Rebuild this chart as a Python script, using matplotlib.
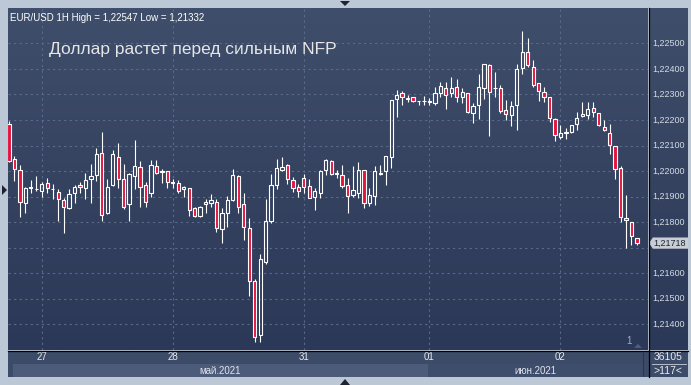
import numpy as np
import matplotlib
matplotlib.use('Agg')
import matplotlib.pyplot as plt
from matplotlib.patches import Rectangle, Polygon
from matplotlib import font_manager

# hourly EURUSD candles
opens = [1.22184, 1.22046, 1.22003, 1.21874, 1.21932, 1.21929, 1.21923, 1.21952, 1.21931, 1.21918,
         1.21887, 1.21854, 1.21913, 1.21944, 1.21932, 1.21968, 1.21986, 1.22070, 1.21835, 1.21944,
         1.22056, 1.21970, 1.21870, 1.21981, 1.22017, 1.21944, 1.21913, 1.22019, 1.22001, 1.21999,
         1.21957, 1.21952, 1.21929, 1.21932, 1.21854, 1.21824, 1.21870, 1.21874, 1.21879, 1.21772,
         1.21836, 1.21886, 1.21980, 1.21870, 1.21779, 1.21569, 1.21359, 1.21645, 1.21805, 1.21947,
         1.22003, 1.22022, 1.21964, 1.21936, 1.21971, 1.21943, 1.21899, 1.21915, 1.22006, 1.22040,
         1.21991, 1.21983, 1.21947, 1.21908, 1.21916, 1.22003, 1.21876, 1.21902, 1.21990, 1.22000,
         1.22054, 1.22283, 1.22304, 1.22284, 1.22289, 1.22274, 1.22273, 1.22272, 1.22268, 1.22304,
         1.22326, 1.22304, 1.22328, 1.22291, 1.22304, 1.22226, 1.22259, 1.22324, 1.22414, 1.22326,
         1.22324, 1.22239, 1.22218, 1.22257, 1.22402, 1.22465, 1.22406, 1.22343, 1.22309, 1.22289,
         1.22202, 1.22132, 1.22148, 1.22153, 1.22184, 1.22214, 1.22218, 1.22246, 1.22226, 1.22171,
         1.22150, 1.22099, 1.22011, 1.21817, 1.21802, 1.21738]
highs = [1.22195, 1.22059, 1.22024, 1.21936, 1.21965, 1.21981, 1.21959, 1.21972, 1.21949, 1.21929,
         1.21893, 1.21929, 1.21946, 1.21959, 1.21991, 1.22026, 1.22089, 1.22153, 1.21968, 1.22083,
         1.22109, 1.22028, 1.21994, 1.22122, 1.22039, 1.21959, 1.22043, 1.22043, 1.22007, 1.22001,
         1.21968, 1.21965, 1.21942, 1.21934, 1.21861, 1.21863, 1.21889, 1.21909, 1.21889, 1.21856,
         1.21902, 1.22007, 1.21984, 1.21915, 1.21818, 1.21579, 1.21675, 1.21891, 1.21989, 1.22048,
         1.22056, 1.22027, 1.21977, 1.21951, 1.21988, 1.21967, 1.21932, 1.22006, 1.22048, 1.22043,
         1.22003, 1.22023, 1.21971, 1.22019, 1.22037, 1.22006, 1.21932, 1.22019, 1.22022, 1.22058,
         1.22278, 1.22317, 1.22313, 1.22296, 1.22291, 1.22276, 1.22294, 1.22286, 1.22328, 1.22349,
         1.22349, 1.22367, 1.22359, 1.22324, 1.22307, 1.22265, 1.22380, 1.22418, 1.22418, 1.22386,
         1.22337, 1.22278, 1.22276, 1.22419, 1.22547, 1.22522, 1.22435, 1.22343, 1.22330, 1.22291,
         1.22206, 1.22179, 1.22167, 1.22179, 1.22232, 1.22272, 1.22272, 1.22272, 1.22226, 1.22200,
         1.22184, 1.22099, 1.22020, 1.21905, 1.21802, 1.21738]
lows = [1.22035, 1.21963, 1.21822, 1.21837, 1.21916, 1.21923, 1.21900, 1.21913, 1.21892, 1.21806,
        1.21759, 1.21852, 1.21874, 1.21916, 1.21889, 1.21876, 1.21962, 1.21806, 1.21833, 1.21942,
        1.21932, 1.21853, 1.21803, 1.21929, 1.21861, 1.21861, 1.21900, 1.21989, 1.21952, 1.21932,
        1.21932, 1.21916, 1.21897, 1.21824, 1.21819, 1.21822, 1.21837, 1.21858, 1.21763, 1.21717,
        1.21782, 1.21883, 1.21836, 1.21729, 1.21510, 1.21332, 1.21332, 1.21638, 1.21797, 1.21930,
        1.22001, 1.21951, 1.21919, 1.21899, 1.21915, 1.21893, 1.21847, 1.21893, 1.21985, 1.21986,
        1.21971, 1.21932, 1.21836, 1.21899, 1.21893, 1.21856, 1.21862, 1.21869, 1.21983, 1.21947,
        1.22011, 1.22213, 1.22259, 1.22272, 1.22270, 1.22260, 1.22260, 1.22260, 1.22259, 1.22291,
        1.22242, 1.22291, 1.22272, 1.22268, 1.22226, 1.22187, 1.22205, 1.22283, 1.22139, 1.22289,
        1.22226, 1.22200, 1.22176, 1.22161, 1.22380, 1.22409, 1.22330, 1.22274, 1.22272, 1.22193,
        1.22119, 1.22127, 1.22127, 1.22150, 1.22161, 1.22210, 1.22202, 1.22213, 1.22176, 1.22158,
        1.22067, 1.21968, 1.21799, 1.21698, 1.21711, 1.21711]
closes = [1.22041, 1.22007, 1.21878, 1.21932, 1.21939, 1.21931, 1.21949, 1.21932, 1.21928, 1.21889,
          1.21858, 1.21909, 1.21936, 1.21936, 1.21965, 1.21982, 1.22067, 1.21827, 1.21936, 1.22066,
          1.21968, 1.21861, 1.21989, 1.22021, 1.21936, 1.21879, 1.22023, 1.21991, 1.21998, 1.21957,
          1.21952, 1.21923, 1.21938, 1.21848, 1.21824, 1.21861, 1.21879, 1.21887, 1.21779, 1.21835,
          1.21886, 1.21983, 1.21860, 1.21782, 1.21570, 1.21351, 1.21654, 1.21804, 1.21945, 1.22010,
          1.22016, 1.21967, 1.21932, 1.21923, 1.21936, 1.21896, 1.21923, 1.22001, 1.22045, 1.21990,
          1.21990, 1.21943, 1.21902, 1.21925, 1.22006, 1.21873, 1.21908, 1.22000, 1.21991, 1.22057,
          1.22278, 1.22296, 1.22289, 1.22283, 1.22276, 1.22273, 1.22274, 1.22274, 1.22307, 1.22333,
          1.22296, 1.22324, 1.22289, 1.22309, 1.22232, 1.22255, 1.22328, 1.22418, 1.22308, 1.22327,
          1.22234, 1.22223, 1.22255, 1.22400, 1.22467, 1.22414, 1.22336, 1.22312, 1.22291, 1.22206,
          1.22141, 1.22148, 1.22152, 1.22179, 1.22206, 1.22222, 1.22242, 1.22232, 1.22179, 1.22161,
          1.22102, 1.22007, 1.21820, 1.21809, 1.21747, 1.21718]

day_labels = ['27', '28', '31', '01', '02']
day_index = [6, 30, 54, 77, 101]
price_ticks = [1.214, 1.215, 1.216, 1.217, 1.218, 1.219, 1.220, 1.221, 1.222, 1.223, 1.224, 1.225]
months = ['май.2021', 'июн.2021']
title_small = 'EUR/USD 1H High = 1,22547 Low = 1,21332'
title_big = 'Доллар растет перед сильным NFP'
last_price = 1.21718

W, H = 691, 385
names = {f.name for f in font_manager.fontManager.ttflist}
narrow = 'Liberation Sans Narrow' if 'Liberation Sans Narrow' in names else 'Liberation Sans'
plt.rcParams['font.family'] = ['Liberation Sans', 'DejaVu Sans']


def box(x, y, w, h):
    # pixel box (top-left origin) -> figure fraction
    return [x / W, 1 - (y + h) / H, w / W, h / H]


def fx(x):
    return x / W


def fy(y):
    return 1 - y / H


fig = plt.figure(figsize=(W / 100, H / 100), dpi=100)
fig.patch.set_facecolor('#bcc8d6')

# price scale: 1.225 at y=43.3 px, 25.55 px per 0.001
ymax = 1.225 + (43.3 - 8) / 25550
ymin = 1.225 - (350 - 43.3) / 25550
xmin = -1 / 5.46
xmax = xmin + 640 / 5.46

grad = np.linspace(0, 1, 256).reshape(-1, 1)
cmap = matplotlib.colors.LinearSegmentedColormap.from_list('bg', ['#3f4e6b', '#2b3857'])

ax = fig.add_axes(box(8, 8, 640, 342))
ax.imshow(grad, aspect='auto', cmap=cmap, extent=[xmin, xmax, ymin, ymax], zorder=0)
ax.set_xlim(xmin, xmax)
ax.set_ylim(ymin, ymax)
ax.axis('off')

for p in price_ticks:
    ax.axhline(p, color='#5b6b8b', lw=0.8, dashes=(2, 3), zorder=1)
for d in day_index:
    ax.axvline(d, color='#5b6b8b', lw=0.8, dashes=(2, 3), zorder=1)

o = np.array(opens)
c = np.array(closes)
hi = np.array(highs)
lo = np.array(lows)
x = np.arange(len(o))
top = np.maximum(o, c)
bot = np.minimum(o, c)

ax.vlines(x, top, hi, color='white', lw=0.8, zorder=2)
ax.vlines(x, lo, bot, color='white', lw=0.8, zorder=2)
up = c >= o
ax.bar(x[up], (top - bot)[up], bottom=bot[up], width=0.6, facecolor='none',
       edgecolor='white', linewidth=0.8, zorder=3)
ax.bar(x[~up], (top - bot)[~up], bottom=bot[~up], width=0.6, facecolor='#e3123e',
       edgecolor='white', linewidth=0.8, zorder=3)

ax.text(0.003, 0.985, title_small, transform=ax.transAxes, color='white',
        fontsize=7, ha='left', va='top')
ax.text(0.064, 0.88, title_big, transform=ax.transAxes, color='#e6e6e6',
        fontsize=12.5, ha='left', va='center')
ax.text(618 / 640, 0.013, '1', transform=ax.transAxes, color='#9fb0c8',
        fontsize=7, ha='left', va='bottom')
ax.add_patch(Polygon([[626 / 640, 0.006], [634 / 640, 0.006], [630 / 640, 0.018]],
                     closed=True, transform=ax.transAxes, facecolor='#4d5d7c',
                     edgecolor='none', zorder=2))

# right price axis; the 1,21700 label sits under the last-price tag
rax = fig.add_axes(box(649, 8, 39, 342))
rax.imshow(grad, aspect='auto', cmap=cmap, extent=[0, 1, ymin, ymax], zorder=0)
rax.set_xlim(0, 1)
rax.set_ylim(ymin, ymax)
rax.axis('off')
for p in price_ticks:
    if abs(p - last_price) < 0.0004:
        continue
    rax.text(0.08, p, f'{p:.5f}'.replace('.', ','), color='#d5dbe4', fontsize=6.5,
             ha='left', va='center')
lp = last_price
rax.add_patch(Polygon([[0.0, lp], [0.1, lp + 0.00022], [1.0, lp + 0.00022],
                       [1.0, lp - 0.00022], [0.1, lp - 0.00022]],
                      closed=True, facecolor='#c9ced6', edgecolor='none', zorder=4))
rax.text(0.12, lp, f'{lp:.5f}'.replace('.', ','), color='#1e2430', fontsize=6.5,
         ha='left', va='center', zorder=5)

# bottom time strip
bax = fig.add_axes(box(8, 351, 680, 26))
bax.set_xlim(8, 688)
bax.set_ylim(377, 351)
bax.axis('off')
bax.add_patch(Rectangle((8, 351), 680, 26, facecolor='#3c4b68', edgecolor='none'))
bax.add_patch(Rectangle((13, 364), 415, 13, facecolor='#4c5b79', edgecolor='none'))
bax.add_patch(Rectangle((428, 364), 215, 13, facecolor='#3e4d6b', edgecolor='none'))
for lab, d in zip(day_labels, day_index):
    px = 8 + (d - xmin) * 5.46
    bax.text(px, 357.5, lab, color='#e8ecf2', fontsize=7, family=narrow, ha='center', va='center')
bax.text(220, 370.5, months[0], color='#dfe4ec', fontsize=7, family=narrow, ha='center', va='center')
bax.text(535, 370.5, months[1], color='#dfe4ec', fontsize=7, family=narrow, ha='center', va='center')
bax.plot([643, 643], [353, 376], color='#2a3550', lw=0.8)
bax.text(668, 357.5, '36105', color='#e8ecf2', fontsize=7.5, family=narrow, ha='center', va='center')
bax.plot([652, 686], [364, 364], color='#c8d0dc', lw=0.6)
bax.text(668, 370.5, '>117<', color='#e8ecf2', fontsize=7.5, family=narrow, ha='center', va='center')

# frame lines
fig.add_artist(plt.Line2D([fx(648.5), fx(648.5)], [fy(8), fy(377)], color='black', lw=0.9))
fig.add_artist(plt.Line2D([fx(8), fx(688)], [fy(350.5), fy(350.5)], color='black', lw=0.9))

# small navigation triangles
tri = '#1c2333'
fig.add_artist(Polygon([[fx(340), fy(1)], [fx(350), fy(1)], [fx(345), fy(6)]],
                       closed=True, transform=fig.transFigure, facecolor=tri, edgecolor='none'))
fig.add_artist(Polygon([[fx(340), fy(385)], [fx(350), fy(385)], [fx(345), fy(379)]],
                       closed=True, transform=fig.transFigure, facecolor=tri, edgecolor='none'))
fig.add_artist(Polygon([[fx(2), fy(185)], [fx(2), fy(195)], [fx(7), fy(190)]],
                       closed=True, transform=fig.transFigure, facecolor=tri, edgecolor='none'))

fig.savefig('out.png', dpi=100, facecolor=fig.get_facecolor())
